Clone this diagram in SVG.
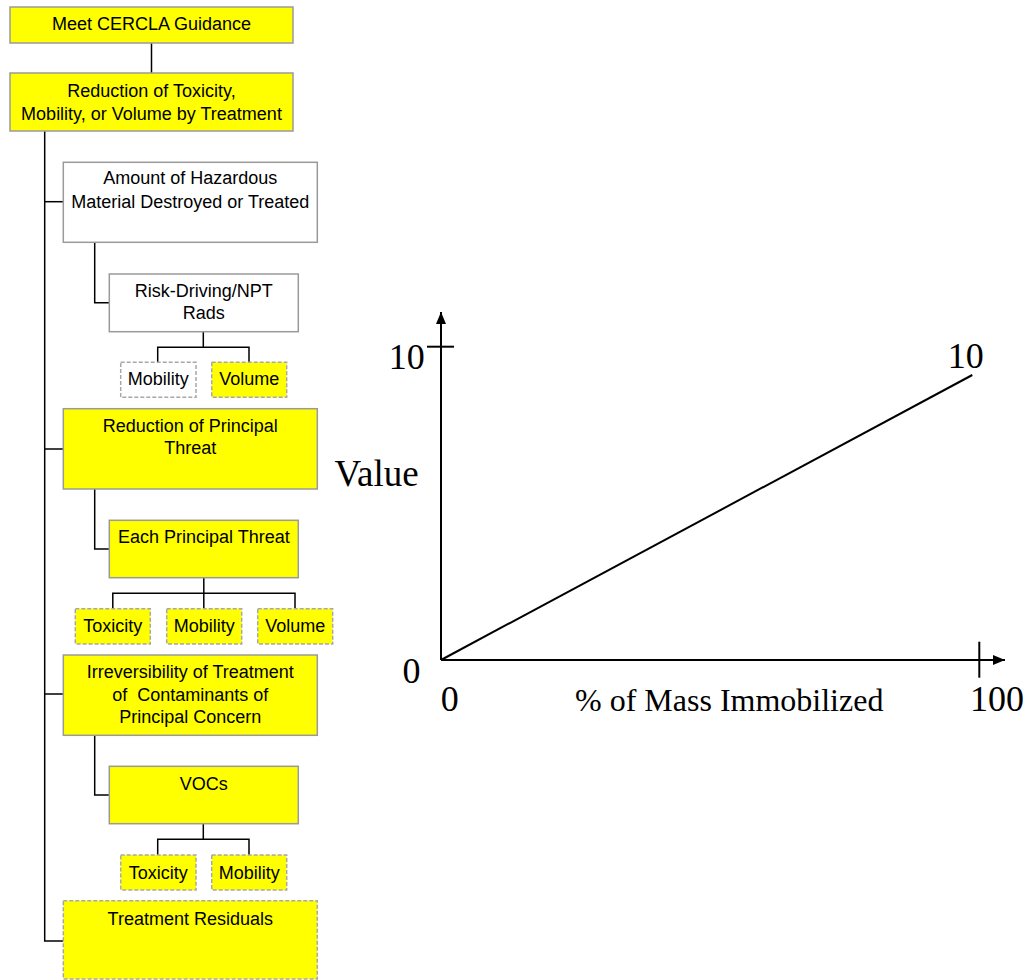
<svg xmlns="http://www.w3.org/2000/svg" width="1030" height="980" viewBox="0 0 1030 980">
  <style>
    .box { stroke: #9a9a9a; stroke-width: 1.5; }
    .yel { fill: #ffff00; }
    .wht { fill: #ffffff; }
    .dash { stroke: #a8a8a8; stroke-width: 1.5; stroke-dasharray: 4 2; }
    .lbl { font-family: "Liberation Sans", Arial, sans-serif; font-size: 18px; fill: #000; text-anchor: middle; }
    .wire { fill: none; stroke: #000; stroke-width: 1.5; }
    .axis { fill: none; stroke: #000; stroke-width: 2; }
    .num { font-family: "Liberation Serif", "Times New Roman", serif; font-size: 36px; fill: #000; }
  </style>
  <defs>
    <marker id="arrow" viewBox="0 0 12 10" refX="12" refY="5" markerWidth="12" markerHeight="10" markerUnits="userSpaceOnUse" orient="auto">
      <path d="M0,0 L12,5 L0,10 Z" fill="#000"/>
    </marker>
  </defs>
  <rect width="1030" height="980" fill="#ffffff"/>

  <!-- tree connectors -->
  <g id="connectors" class="wire">
    <path d="M151.5,43 V73"/>
    <path d="M44.7,131 V941 H63.3"/>
    <path d="M44.7,201.7 H63.3"/>
    <path d="M44.7,449 H63.3"/>
    <path d="M44.7,694 H63.3"/>
    <path d="M94.7,242.3 V302.7 H109.3"/>
    <path d="M203.3,331.7 V347.3"/>
    <path d="M157.7,362.3 V347.3 H249 V362.3"/>
    <path d="M94.7,489 V549 H109.3"/>
    <path d="M203.8,577.7 V608.7"/>
    <path d="M112.8,608.7 V593.3 H295 V608.7"/>
    <path d="M94.7,735.3 V795 H109.3"/>
    <path d="M203.3,823.7 V839.3"/>
    <path d="M157.7,855 V839.3 H249 V855"/>
  </g>

  <!-- tree nodes -->
  <g id="n-cercla">
    <rect class="box yel" x="10" y="7" width="283" height="36"/>
    <text class="lbl" x="151.5" y="30">Meet CERCLA Guidance</text>
  </g>
  <g id="n-reduction-tmv">
    <rect class="box yel" x="10" y="73" width="283" height="58"/>
    <text class="lbl" x="151.5" y="97">Reduction of Toxicity,</text>
    <text class="lbl" x="151.5" y="119.5">Mobility, or Volume by Treatment</text>
  </g>
  <g id="n-amount">
    <rect class="box wht" x="63.3" y="162.3" width="254" height="80"/>
    <text class="lbl" x="190.3" y="184.3">Amount of Hazardous</text>
    <text class="lbl" x="190.3" y="207.7">Material Destroyed or Treated</text>
  </g>
  <g id="n-risk">
    <rect class="box wht" x="109.3" y="274" width="189" height="57.7"/>
    <text class="lbl" x="203.8" y="296.7">Risk-Driving/NPT</text>
    <text class="lbl" x="203.8" y="319.3">Rads</text>
  </g>
  <g id="n-risk-mobility">
    <rect class="dash wht" x="120.7" y="362.3" width="75.3" height="35"/>
    <text class="lbl" x="158.3" y="385">Mobility</text>
  </g>
  <g id="n-risk-volume">
    <rect class="dash yel" x="211.7" y="362.3" width="75" height="35"/>
    <text class="lbl" x="249.2" y="385">Volume</text>
  </g>
  <g id="n-principal">
    <rect class="box yel" x="63.3" y="408.7" width="254" height="80.3"/>
    <text class="lbl" x="190.3" y="431.7">Reduction of Principal</text>
    <text class="lbl" x="190.3" y="454">Threat</text>
  </g>
  <g id="n-each">
    <rect class="box yel" x="109.3" y="520.3" width="189" height="57.4"/>
    <text class="lbl" x="203.8" y="543.3">Each Principal Threat</text>
  </g>
  <g id="n-each-toxicity">
    <rect class="dash yel" x="75.3" y="608.7" width="75" height="35.3"/>
    <text class="lbl" x="112.8" y="631.7">Toxicity</text>
  </g>
  <g id="n-each-mobility">
    <rect class="dash yel" x="166.7" y="608.7" width="75" height="35.3"/>
    <text class="lbl" x="204.2" y="631.7">Mobility</text>
  </g>
  <g id="n-each-volume">
    <rect class="dash yel" x="257.7" y="608.7" width="75" height="35.3"/>
    <text class="lbl" x="295.2" y="631.7">Volume</text>
  </g>
  <g id="n-irreversibility">
    <rect class="box yel" x="63.3" y="655" width="254" height="80.3"/>
    <text class="lbl" x="190.3" y="677.7">Irreversibility of Treatment</text>
    <text class="lbl" x="190.3" y="700.7" xml:space="preserve">of  Contaminants of</text>
    <text class="lbl" x="190.3" y="723.3">Principal Concern</text>
  </g>
  <g id="n-vocs">
    <rect class="box yel" x="109.3" y="766.3" width="189" height="57.4"/>
    <text class="lbl" x="203.8" y="790">VOCs</text>
  </g>
  <g id="n-vocs-toxicity">
    <rect class="dash yel" x="120.7" y="855" width="75.3" height="35"/>
    <text class="lbl" x="158.3" y="879">Toxicity</text>
  </g>
  <g id="n-vocs-mobility">
    <rect class="dash yel" x="211.7" y="855" width="75" height="35"/>
    <text class="lbl" x="249.2" y="879">Mobility</text>
  </g>
  <g id="n-residuals">
    <rect class="dash yel" x="63.3" y="900.7" width="254" height="78.3"/>
    <text class="lbl" x="190.3" y="925">Treatment Residuals</text>
  </g>

  <!-- value function chart -->
  <g id="chart">
    <line class="axis" x1="441" y1="660" x2="441" y2="312" marker-end="url(#arrow)"/>
    <line class="axis" x1="441" y1="660" x2="1005" y2="660" marker-end="url(#arrow)"/>
    <line class="axis" x1="427" y1="346.7" x2="454" y2="346.7"/>
    <line class="axis" x1="979.3" y1="641.7" x2="979.3" y2="677.7"/>
    <line class="axis" x1="441" y1="660" x2="972.3" y2="375"/>
    <text class="num" x="388.7" y="369">10</text>
    <text class="num" x="947.7" y="368">10</text>
    <text class="num" x="334.4" y="486" style="font-size:37px">Value</text>
    <text class="num" x="402.4" y="683">0</text>
    <text class="num" x="440.8" y="711">0</text>
    <text class="num" x="575" y="711" style="font-size:32px">% of Mass Immobilized</text>
    <text class="num" x="970" y="711">100</text>
  </g>
</svg>
